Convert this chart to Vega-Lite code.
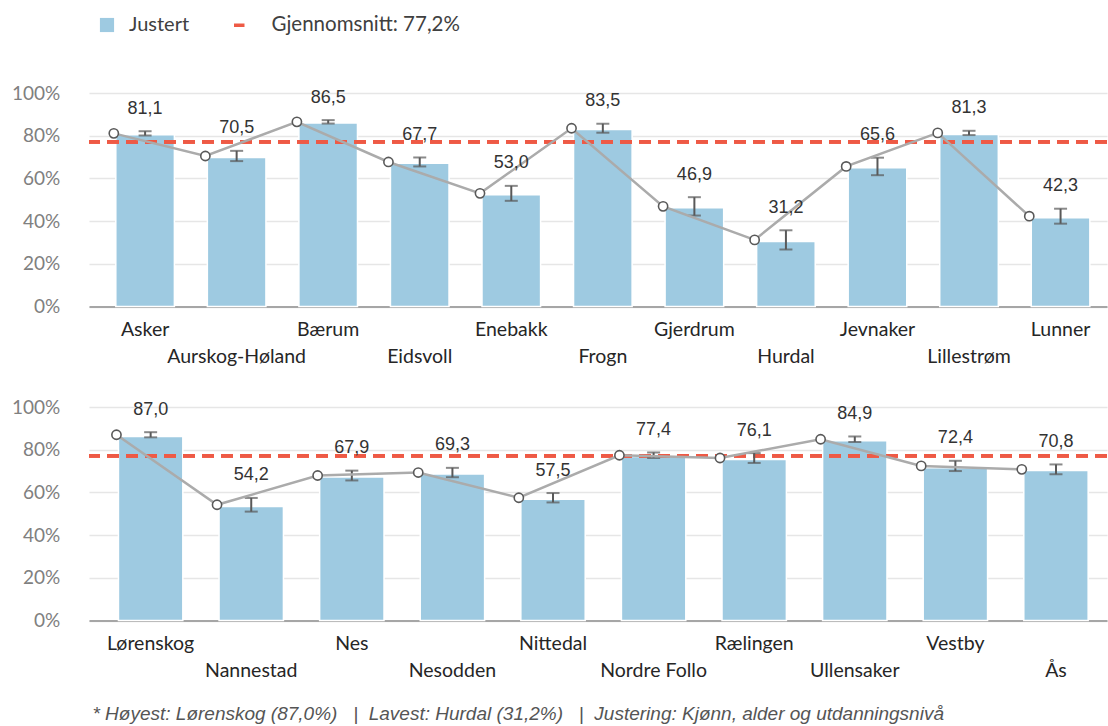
{
  "$schema": "https://vega.github.io/schema/vega-lite/v6.json",
  "padding": {"left": 11, "top": 15, "right": 0, "bottom": 0},
  "background": "white",
  "bounds": "flush",
  "spacing": 100,
  "title": {
    "text": "* Høyest: Lørenskog (87,0%) \u00a0\u00a0|\u00a0 Lavest: Hurdal (31,2%) \u00a0\u00a0|\u00a0 Justering: Kjønn, alder og utdanningsnivå",
    "orient": "bottom",
    "anchor": "start",
    "frame": "bounds",
    "offset": 40,
    "dx": 81,
    "baseline": "alphabetic",
    "font": "Liberation Sans",
    "fontStyle": "italic",
    "fontWeight": "normal",
    "fontSize": 19,
    "color": "#555555"
  },
  "datasets": {
    "top": [
      {"kommune": "Asker", "justert": 80.5, "rate": 81.1, "lo": 80.1, "hi": 82.1},
      {"kommune": "Aurskog-Høland", "justert": 69.8, "rate": 70.5, "lo": 68.1, "hi": 72.9},
      {"kommune": "Bærum", "justert": 85.9, "rate": 86.5, "lo": 85.7, "hi": 87.3},
      {"kommune": "Eidsvoll", "justert": 67.1, "rate": 67.7, "lo": 65.6, "hi": 69.8},
      {"kommune": "Enebakk", "justert": 52.3, "rate": 53.0, "lo": 49.5, "hi": 56.5},
      {"kommune": "Frogn", "justert": 82.9, "rate": 83.5, "lo": 81.4, "hi": 85.6},
      {"kommune": "Gjerdrum", "justert": 46.2, "rate": 46.9, "lo": 42.6, "hi": 51.2},
      {"kommune": "Hurdal", "justert": 30.5, "rate": 31.2, "lo": 26.7, "hi": 35.7},
      {"kommune": "Jevnaker", "justert": 65.0, "rate": 65.6, "lo": 61.5, "hi": 69.7},
      {"kommune": "Lillestrøm", "justert": 80.6, "rate": 81.3, "lo": 80.3, "hi": 82.3},
      {"kommune": "Lunner", "justert": 41.6, "rate": 42.3, "lo": 38.8, "hi": 45.8}
    ],
    "bottom": [
      {"kommune": "Lørenskog", "justert": 86.2, "rate": 87.0, "lo": 85.8, "hi": 88.2},
      {"kommune": "Nannestad", "justert": 53.4, "rate": 54.2, "lo": 51.0, "hi": 57.4},
      {"kommune": "Nes", "justert": 67.2, "rate": 67.9, "lo": 65.6, "hi": 70.2},
      {"kommune": "Nesodden", "justert": 68.6, "rate": 69.3, "lo": 67.1, "hi": 71.5},
      {"kommune": "Nittedal", "justert": 56.8, "rate": 57.5, "lo": 55.3, "hi": 59.7},
      {"kommune": "Nordre Follo", "justert": 76.8, "rate": 77.4, "lo": 76.1, "hi": 78.7},
      {"kommune": "Rælingen", "justert": 75.4, "rate": 76.1, "lo": 73.8, "hi": 78.4},
      {"kommune": "Ullensaker", "justert": 84.2, "rate": 84.9, "lo": 83.6, "hi": 86.2},
      {"kommune": "Vestby", "justert": 71.6, "rate": 72.4, "lo": 70.0, "hi": 74.8},
      {"kommune": "Ås", "justert": 70.2, "rate": 70.8, "lo": 68.5, "hi": 73.1}
    ]
  },
  "vconcat": [
    {
      "width": 1018,
      "height": 213.5,
      "data": {"name": "top"},
      "layer": [
        {
          "mark": {"type": "bar", "stroke": "white", "strokeWidth": 1.5},
          "encoding": {
            "x": {
              "field": "kommune", "type": "nominal", "sort": null, "title": null,
              "scale": {"paddingInner": 0.36, "paddingOuter": 0.24, "align": 0.61},
              "axis": {
                "labelAngle": 0, "labelOverlap": false, "labelBound": false, "labelLimit": 0,
                "labelFont": "Lato", "labelFontSize": 19.5, "labelColor": "#262626",
                "labelBaseline": "alphabetic", "labelPadding": 29.4, "labelLineHeight": 26.7,
                "labelExpr": "indexof(['Aurskog-Høland','Eidsvoll','Frogn','Hurdal','Lillestrøm'], datum.label) >= 0 ? ['', datum.label] : datum.label",
                "ticks": false, "tickSize": 0, "domainColor": "#A6A6A6", "domainWidth": 2, "grid": false
              }
            },
            "y": {
              "field": "justert", "type": "quantitative", "title": null,
              "scale": {"domain": [0, 100], "nice": false},
              "axis": {
                "values": [0, 20, 40, 60, 80, 100], "labelExpr": "datum.value + '%'",
                "labelFont": "Lato", "labelFontSize": 19, "labelColor": "#808080", "labelPadding": 29.3,
                "ticks": false, "domain": false, "gridColor": "#E6E6E6", "gridWidth": 1.5
              }
            },
            "fill": {
              "datum": "Justert",
              "scale": {"domain": ["Justert"], "range": ["#9ECAE1"]},
              "legend": {
                "orient": "none", "legendX": 8, "legendY": -78, "direction": "horizontal", "title": null,
                "symbolSize": 200, "symbolType": "square", "symbolStrokeWidth": 0,
                "labelFont": "Lato", "labelFontSize": 20, "labelColor": "#404040",
                "labelOffset": 12, "labelLimit": 400
              }
            }
          }
        },
        {
          "mark": {"type": "rule", "strokeDash": [12, 7], "strokeWidth": 3},
          "encoding": {
            "y": {"datum": 77.2},
            "stroke": {
              "datum": "Gjennomsnitt: 77,2%",
              "scale": {"domain": ["Gjennomsnitt: 77,2%"], "range": ["#EE5A45"]},
              "legend": {
                "orient": "none", "legendX": 140, "legendY": -78, "direction": "horizontal", "title": null,
                "symbolSize": 110, "symbolType": "stroke", "symbolStrokeWidth": 3.5, "symbolDash": [20, 0],
                "labelFont": "Lato", "labelFontSize": 20.5, "labelColor": "#404040",
                "labelOffset": 22, "labelLimit": 400
              }
            }
          }
        },
        {
          "mark": {
            "type": "errorbar",
            "ticks": {"size": 13, "thickness": 2, "color": "#595959"},
            "rule": {"strokeWidth": 2, "color": "#595959"}
          },
          "encoding": {
            "x": {"field": "kommune", "type": "nominal", "sort": null},
            "y": {"field": "lo", "type": "quantitative", "title": null},
            "y2": {"field": "hi"}
          }
        },
        {
          "mark": {"type": "line", "color": "#ABABAB", "strokeWidth": 2.5},
          "encoding": {
            "x": {"field": "kommune", "type": "nominal", "sort": null, "bandPosition": 0},
            "xOffset": {"value": -2},
            "y": {"field": "rate", "type": "quantitative", "title": null}
          }
        },
        {
          "mark": {"type": "point", "shape": "circle", "filled": true, "fill": "white", "stroke": "#595959", "strokeWidth": 1.6, "size": 85, "opacity": 1},
          "encoding": {
            "x": {"field": "kommune", "type": "nominal", "sort": null, "bandPosition": 0},
            "xOffset": {"value": -2},
            "y": {"field": "rate", "type": "quantitative", "title": null}
          }
        },
        {
          "mark": {"type": "text", "font": "Liberation Sans", "fontSize": 18, "color": "#333333", "baseline": "alphabetic", "dy": -17.5},
          "encoding": {
            "x": {"field": "kommune", "type": "nominal", "sort": null},
            "y": {"field": "hi", "type": "quantitative", "title": null},
            "text": {"field": "rate", "type": "quantitative", "format": ".1f"}
          }
        }
      ]
    },
    {
      "width": 1018,
      "height": 213.5,
      "data": {"name": "bottom"},
      "layer": [
        {
          "mark": {"type": "bar", "stroke": "white", "strokeWidth": 1.5},
          "encoding": {
            "x": {
              "field": "kommune", "type": "nominal", "sort": null, "title": null,
              "scale": {"paddingInner": 0.36, "paddingOuter": 0.24, "align": 0.61},
              "axis": {
                "labelAngle": 0, "labelOverlap": false, "labelBound": false, "labelLimit": 0,
                "labelFont": "Lato", "labelFontSize": 19.5, "labelColor": "#262626",
                "labelBaseline": "alphabetic", "labelPadding": 29.4, "labelLineHeight": 26.7,
                "labelExpr": "indexof(['Nannestad','Nesodden','Nordre Follo','Ullensaker','Ås'], datum.label) >= 0 ? ['', datum.label] : datum.label",
                "ticks": false, "tickSize": 0, "domainColor": "#A6A6A6", "domainWidth": 2, "grid": false
              }
            },
            "y": {
              "field": "justert", "type": "quantitative", "title": null,
              "scale": {"domain": [0, 100], "nice": false},
              "axis": {
                "values": [0, 20, 40, 60, 80, 100], "labelExpr": "datum.value + '%'",
                "labelFont": "Lato", "labelFontSize": 19, "labelColor": "#808080", "labelPadding": 29.3,
                "ticks": false, "domain": false, "gridColor": "#E6E6E6", "gridWidth": 1.5
              }
            },
            "fill": {"datum": "Justert"}
          }
        },
        {
          "mark": {"type": "rule", "strokeDash": [12, 7], "strokeWidth": 3},
          "encoding": {"y": {"datum": 77.2}, "stroke": {"datum": "Gjennomsnitt: 77,2%"}}
        },
        {
          "mark": {
            "type": "errorbar",
            "ticks": {"size": 13, "thickness": 2, "color": "#595959"},
            "rule": {"strokeWidth": 2, "color": "#595959"}
          },
          "encoding": {
            "x": {"field": "kommune", "type": "nominal", "sort": null},
            "y": {"field": "lo", "type": "quantitative", "title": null},
            "y2": {"field": "hi"}
          }
        },
        {
          "mark": {"type": "line", "color": "#ABABAB", "strokeWidth": 2.5},
          "encoding": {
            "x": {"field": "kommune", "type": "nominal", "sort": null, "bandPosition": 0},
            "xOffset": {"value": -2},
            "y": {"field": "rate", "type": "quantitative", "title": null}
          }
        },
        {
          "mark": {"type": "point", "shape": "circle", "filled": true, "fill": "white", "stroke": "#595959", "strokeWidth": 1.6, "size": 85, "opacity": 1},
          "encoding": {
            "x": {"field": "kommune", "type": "nominal", "sort": null, "bandPosition": 0},
            "xOffset": {"value": -2},
            "y": {"field": "rate", "type": "quantitative", "title": null}
          }
        },
        {
          "mark": {"type": "text", "font": "Liberation Sans", "fontSize": 18, "color": "#333333", "baseline": "alphabetic", "dy": -17.5},
          "encoding": {
            "x": {"field": "kommune", "type": "nominal", "sort": null},
            "y": {"field": "hi", "type": "quantitative", "title": null},
            "text": {"field": "rate", "type": "quantitative", "format": ".1f"}
          }
        }
      ]
    }
  ],
  "config": {
    "view": {"stroke": null},
    "locale": {"number": {"decimal": ",", "thousands": " ", "grouping": [3], "currency": ["", " kr"]}}
  }
}
